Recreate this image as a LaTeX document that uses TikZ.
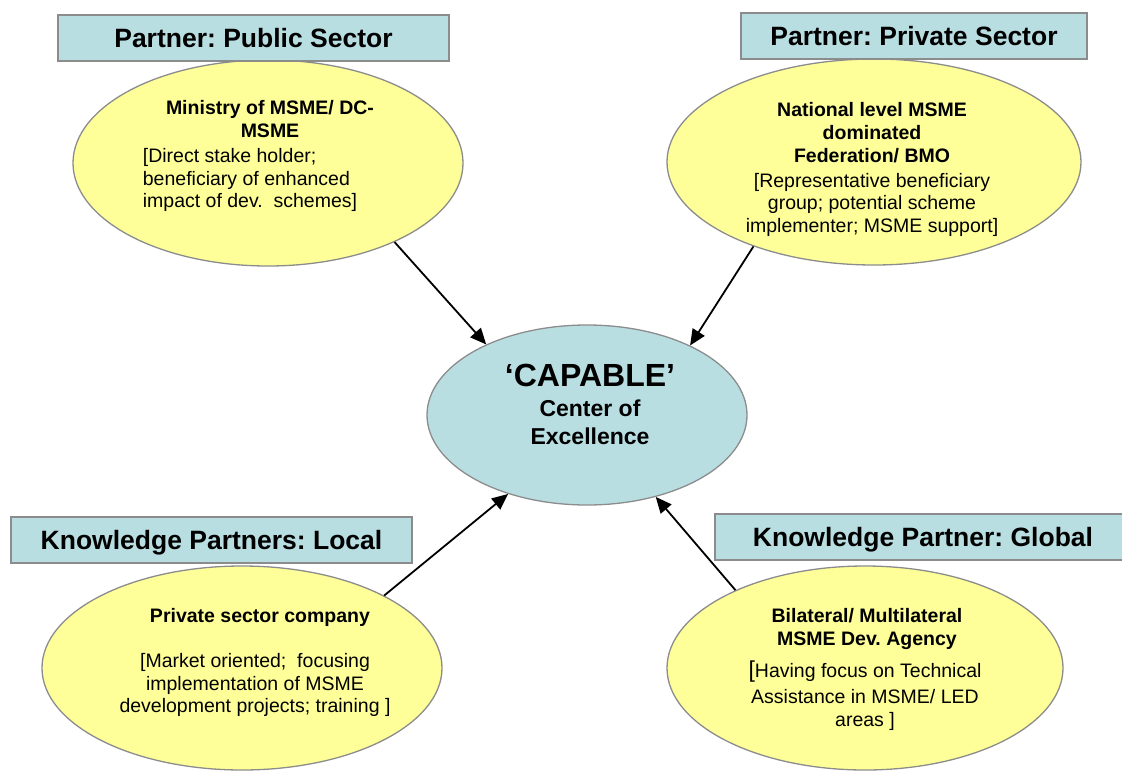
\documentclass[tikz,border=0pt]{standalone}
\usepackage{fontspec}
\setmainfont{Liberation Sans}
\usetikzlibrary{shapes.geometric,arrows.meta,positioning}
\definecolor{tagblue}{HTML}{B8DEE2}
\definecolor{blobyellow}{HTML}{FFFF99}
\definecolor{rim}{HTML}{8C8C8C}
\frenchspacing

\begin{document}
\begin{tikzpicture}[x=1pt,y=-1pt,
  tag/.style={rectangle, draw=rim, line width=2pt, fill=tagblue, inner sep=0,
    minimum height=46pt, text height=19pt, text depth=0pt,
    font=\fontsize{26.5}{30}\selectfont\bfseries},
  blob/.style={ellipse, draw=rim, line width=1.3pt, fill=blobyellow, inner sep=0},
  txt/.style={align=center, inner sep=0, font=\fontsize{19.5}{22.5}\selectfont},
  head/.style={txt, font=\fontsize{19.5}{23}\selectfont\bfseries},
  arr/.style={-{Triangle[length=16pt,width=14pt]}, line width=1.8pt}]
\useasboundingbox (0,0) rectangle (1122,774);

% partner ellipses and the centre
\node[blob, minimum width=390pt, minimum height=206pt] (pub) at (268,163) {};
\node[blob, minimum width=414pt, minimum height=206pt] (priv) at (874,162) {};
\node[blob, minimum width=400pt, minimum height=204pt] (loc) at (242,668) {};
\node[blob, minimum width=396pt, minimum height=204pt] (glob) at (865,668) {};
\node[blob, fill=tagblue, minimum width=320pt, minimum height=180pt] (coe) at (587,415) {};

% headings
\node[tag, minimum width=391pt] (pubT) at (253.5,38) {Partner: Public Sector};
\node[tag, minimum width=346pt] (privT) at (914,36) {Partner: Private Sector};
\node[tag, minimum width=401pt] (locT) at (211.5,540) {Knowledge Partners: Local};
\node[tag, minimum width=416pt] (globT) at (923,537) {Knowledge Partner: Global};

% texts
\node[head] (pubhead) at (270,119.5) {Ministry of MSME/ DC-\\MSME};
\node[txt, align=left] (pubbody) at (250,180) {{[}Direct stake holder;\\beneficiary of enhanced\\impact of dev.~ schemes{]}};
\node[head] (privhead) at (872,133) {National level MSME\\dominated\\Federation/ BMO};
\node[txt] (privbody) at (872,204.5) {{[}Representative beneficiary\\group; potential scheme\\implementer; MSME support{]}};
\node[head] (lochead) at (260,617) {Private sector company};
\node[txt] (locbody) at (255,685) {{[}Market oriented;~ focusing\\implementation of MSME\\development projects; training {]}};
\node[head] (globhead) at (867,628.5) {Bilateral/ Multilateral\\MSME Dev. Agency};
\node[txt] (globbody) at (865,695.5) {{\fontsize{23}{24}\selectfont[}Having focus on Technical\\[3.5pt]Assistance in MSME/ LED\\areas {]}};
\node[txt, font=\fontsize{23}{28}\selectfont\bfseries] (coetxt) at (590,404.5)
  {{\fontsize{32}{36}\selectfont ‘CAPABLE’}\\[2pt]Center of\\Excellence};

\draw[arr] (pub.-32) -- (coe.145.5);
\draw[arr] (priv.215.6) -- (coe.34.6);
\draw[arr] (loc.27) -- (coe.225);
\draw[arr] (glob.149.6) -- (coe.-50.5);

\end{tikzpicture}
\end{document}
